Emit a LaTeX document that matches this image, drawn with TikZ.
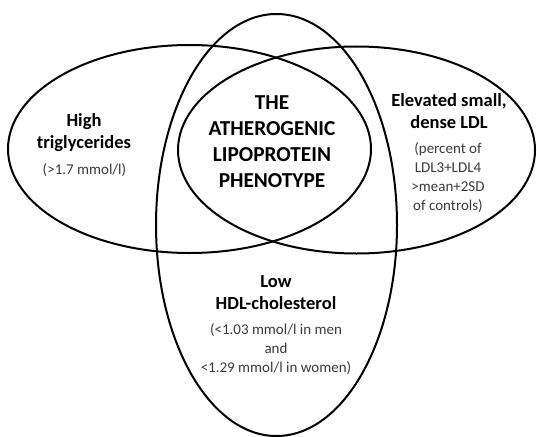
\documentclass[tikz,border=0pt]{standalone}
\usepackage{fontspec}
\setmainfont{Carlito}
\usetikzlibrary{shapes.geometric}
\definecolor{subgray}{HTML}{3A3A3A}
\tikzset{
  setoval/.style={draw=black, line width=2pt, ellipse, inner sep=0pt, outer sep=0pt},
  titletext/.style={align=center, inner sep=0pt, anchor=north, font=\bfseries\fontsize{18.5}{22}\selectfont},
  centertext/.style={align=center, inner sep=0pt, anchor=north, font=\bfseries\fontsize{21.3}{26}\selectfont},
  subtext/.style={align=center, inner sep=0pt, anchor=north, text=subgray, font=\fontsize{15}{19}\selectfont}
}
\begin{document}
\begin{tikzpicture}[x=1pt,y=-1pt]
\useasboundingbox (0,0) rectangle (537,436);
\node[setoval, minimum width=363pt, minimum height=208pt] (trig) at (189.5,149) {};
\node[setoval, minimum width=357pt, minimum height=207pt] (ldl) at (356.5,150) {};
\node[setoval, minimum width=241pt, minimum height=422pt] (hdl) at (276.5,225) {};
\node[titletext] (trigtitle) at (84,113) {High\\triglycerides};
\node[subtext] (trigsub) at (84.5,163) {(>1.7 mmol/l)};
\node[centertext] (core) at (272,95) {THE\\ATHEROGENIC\\LIPOPROTEIN\\PHENOTYPE};
\node[titletext] (ldltitle) at (449,93) {Elevated small,\\dense LDL};
\node[subtext] (ldlsub) at (448,142) {(percent of\\LDL3+LDL4\\>mean+2SD\\of controls)};
\node[titletext] (hdltitle) at (276,275) {Low\\HDL-cholesterol};
\node[subtext] (hdlsub) at (276,323) {(<1.03 mmol/l in men\\and\\<1.29 mmol/l in women)};
\end{tikzpicture}
\end{document}
